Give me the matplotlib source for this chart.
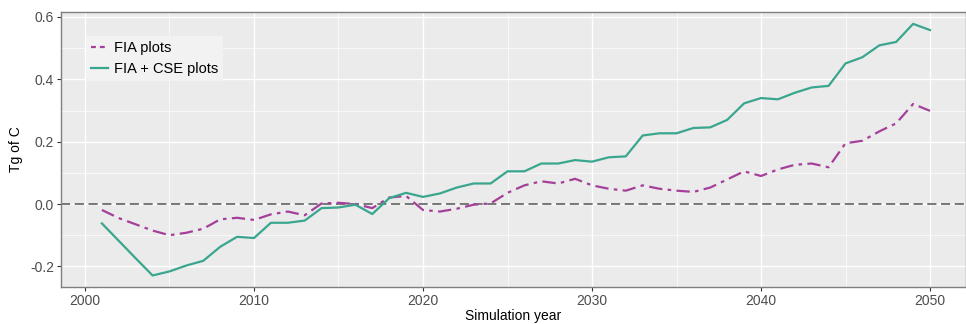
import numpy as np
import matplotlib
matplotlib.use("Agg")
import matplotlib.pyplot as plt
from matplotlib.lines import Line2D
from matplotlib.ticker import MultipleLocator

years = np.arange(2001, 2051)

fia = [-0.019, -0.045, -0.065, -0.085, -0.100, -0.092, -0.079, -0.049, -0.044, -0.051,
       -0.033, -0.024, -0.036, 0.002, 0.004, 0.000, -0.013, 0.021, 0.026, -0.019,
       -0.024, -0.015, -0.002, 0.002, 0.036, 0.060, 0.073, 0.066, 0.081, 0.060,
       0.049, 0.043, 0.060, 0.049, 0.043, 0.039, 0.053, 0.079, 0.105, 0.090,
       0.111, 0.126, 0.130, 0.118, 0.195, 0.203, 0.233, 0.259, 0.321, 0.299]

fia_cse = [-0.062, -0.118, -0.174, -0.229, -0.216, -0.197, -0.182, -0.137, -0.105, -0.109,
           -0.060, -0.060, -0.053, -0.013, -0.011, -0.002, -0.032, 0.019, 0.036, 0.023,
           0.034, 0.053, 0.066, 0.066, 0.105, 0.105, 0.130, 0.130, 0.141, 0.136,
           0.150, 0.153, 0.220, 0.227, 0.227, 0.244, 0.246, 0.270, 0.323, 0.340,
           0.336, 0.357, 0.374, 0.379, 0.451, 0.471, 0.509, 0.520, 0.578, 0.558]

x_ticks = [2000, 2010, 2020, 2030, 2040, 2050]
y_ticks = [-0.2, 0.0, 0.2, 0.4, 0.6]

magenta = "#A4409A"
teal = "#3AA68E"

plt.rcParams["font.family"] = ["Liberation Sans", "DejaVu Sans"]

fig = plt.figure(figsize=(9.66, 3.24), dpi=100)
ax = fig.add_axes([61 / 966, 37 / 324, 905 / 966, 275 / 324])
ax.set_facecolor("#EBEBEB")

# grid like ggplot theme_gray
ax.xaxis.set_minor_locator(MultipleLocator(5))
ax.yaxis.set_minor_locator(MultipleLocator(0.1))
ax.grid(which="major", color="white", linewidth=1.0)
ax.grid(which="minor", color="white", linewidth=0.5)
ax.set_axisbelow(True)

ax.axhline(0, color="#555555", linewidth=1.1, dashes=(6, 3), zorder=2)

l1, = ax.plot(years, fia, color=magenta, linewidth=1.6, zorder=3)
l1.set_dashes((6, 2.4, 1.6, 2.4))
ax.plot(years, fia_cse, color=teal, linewidth=1.6, zorder=3)

ax.set_xlim(1998.58, 2052.13)
ax.set_ylim(-0.266, 0.616)
ax.set_xticks(x_ticks)
ax.set_yticks(y_ticks)
ax.set_yticklabels([f"{v:.1f}" for v in y_ticks])
ax.tick_params(which="major", length=3, color="#333333", labelsize=10,
               labelcolor="#4D4D4D", pad=2)
ax.tick_params(which="minor", length=0)

for s in ax.spines.values():
    s.set_color("#7F7F7F")
    s.set_linewidth(1.0)

ax.set_xlabel("Simulation year", fontsize=10, labelpad=1)
ax.set_ylabel("Tg of C", fontsize=10, labelpad=5)

handles = [Line2D([], [], color=magenta, linewidth=1.6, dashes=(2.2, 1.8)),
           Line2D([], [], color=teal, linewidth=1.6)]
leg = ax.legend(handles, ["FIA plots", "FIA + CSE plots"], loc="upper left",
                bbox_to_anchor=(0.028, 0.912), fontsize=10.5, frameon=True,
                fancybox=False, handlelength=1.15, handletextpad=0.4,
                borderpad=0.35, labelspacing=0.45, borderaxespad=0)
leg.get_frame().set_facecolor("#F2F2F2")
leg.get_frame().set_edgecolor("none")
leg.get_frame().set_alpha(1)

fig.savefig("out.png", dpi=100)
